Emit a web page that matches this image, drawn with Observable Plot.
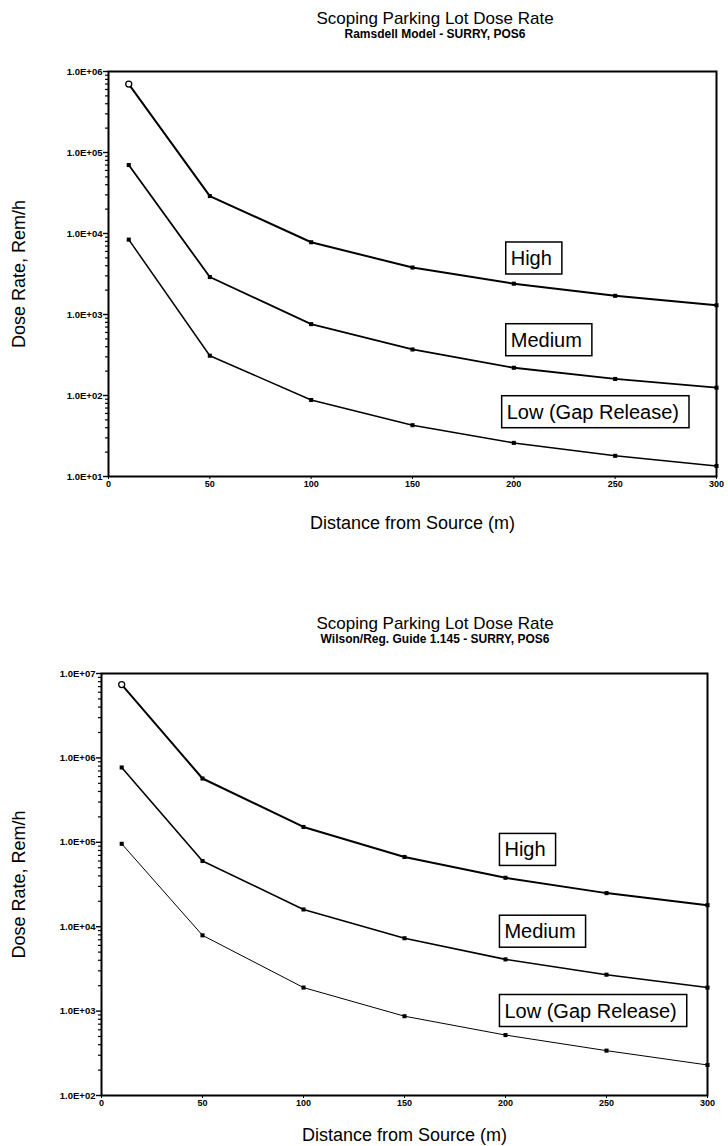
<!DOCTYPE html>
<html><head><meta charset="utf-8">
<script src="https://cdn.jsdelivr.net/npm/d3@7"></script>
<script src="https://cdn.jsdelivr.net/npm/@observablehq/plot@0.6"></script>
<style>
body{margin:0;background:#fff;font-family:"Liberation Sans",Arial,sans-serif;color:#000}
#page{position:relative;width:728px;height:1146px;overflow:hidden;background:#fff}
.title{position:absolute;transform:translateX(-50%);white-space:nowrap;font-size:17px;line-height:18px}
.sub{position:absolute;transform:translateX(-50%);white-space:nowrap;font-size:12px;font-weight:bold;line-height:13px}
.chart{position:absolute;left:0}
</style></head><body><div id="page"></div>
<script>
// ---- data ----
const distances = [10, 50, 100, 150, 200, 250, 300];
const seriesNames = ["High", "Medium", "Low (Gap Release)"];

const ramsdellHigh   = [7.0e5, 2.9e4, 7.8e3, 3.8e3, 2.4e3, 1.7e3, 1.3e3];
const ramsdellMedium = [7.0e4, 2.9e3, 7.6e2, 3.7e2, 2.2e2, 1.6e2, 1.25e2];
const ramsdellLow    = [8.4e3, 3.1e2, 88, 43, 26, 18, 13.5];

const wilsonHigh   = [7.4e6, 5.7e5, 1.52e5, 6.7e4, 3.8e4, 2.5e4, 1.8e4];
const wilsonMedium = [7.7e5, 6.0e4, 1.6e4, 7.3e3, 4.1e3, 2.7e3, 1.9e3];
const wilsonLow    = [9.6e4, 7.9e3, 1.9e3, 8.7e2, 5.2e2, 3.4e2, 2.3e2];

const xTicks = [0, 50, 100, 150, 200, 250, 300];
const ramsdellYTicks = [1e1, 1e2, 1e3, 1e4, 1e5, 1e6];
const wilsonYTicks = [1e2, 1e3, 1e4, 1e5, 1e6, 1e7];

const ramsdellLabelX = [196, 196, 194];
const ramsdellLabelY = [4.9e3, 4.8e2, 62];
const wilsonLabelX = [197, 197, 197];
const wilsonLabelY = [8.1e4, 8.7e3, 1.0e3];

const titles = ["Scoping Parking Lot Dose Rate", "Scoping Parking Lot Dose Rate"];
const subtitles = ["Ramsdell Model - SURRY, POS6", "Wilson/Reg. Guide 1.145 - SURRY, POS6"];
const xLabel = "Distance from Source (m)";
const yLabel = "Dose Rate, Rem/h";

// ---- helpers ----
function rows(values) {
  return seriesNames.flatMap((s, i) => values[i].map((v, j) => ({series: s, distance: distances[j], value: v, idx: j})));
}
function labelRows(xs, ys) {
  return seriesNames.map((s, i) => ({text: s, x: xs[i], y: ys[i]}));
}
const fmtE = d => {
  const e = Math.round(Math.log10(d));
  return "1.0E" + (e >= 0 ? "+" : "-") + String(Math.abs(e)).padStart(2, "0");
};

function makeChart(cfg) {
  const data = rows(cfg.values);
  const minor = cfg.yTicks.slice(0, -1).flatMap(t => [2, 3, 4, 5, 6, 7, 8, 9].map(k => k * t));
  const widths = cfg.lineWidths;
  const marks = [
    Plot.axisY({ticks: minor, tickSize: 3, tickFormat: () => "", label: null, strokeWidth: 1.2}),
    Plot.axisY({ticks: cfg.yTicks, tickSize: 5, tickFormat: fmtE, label: null, fontSize: 9.5, fontWeight: "bold", tickPadding: 1, strokeWidth: 1.4}),
    Plot.axisY([], {label: yLabel, labelAnchor: "center", labelOffset: cfg.yLabelOffset, labelArrow: "none", fontSize: 18}),
    Plot.axisX({ticks: xTicks, tickSize: 3, label: null, fontSize: 9, fontWeight: "bold", tickPadding: 1}),
    Plot.axisX([], {label: xLabel, labelAnchor: "center", labelOffset: cfg.xLabelOffset, labelArrow: "none", fontSize: 18}),
    Plot.frame({strokeWidth: 2}),
    ...seriesNames.map((s, i) => Plot.line(data.filter(d => d.series === s), {x: "distance", y: "value", stroke: "black", strokeWidth: widths[i]})),
    Plot.dot(data.filter(d => !(d.series === "High" && d.idx === 0)), {x: "distance", y: "value", symbol: "square", r: 2.3, fill: "black"}),
    Plot.dot(data.filter(d => d.series === "High" && d.idx === 0), {x: "distance", y: "value", symbol: "circle", r: 3, fill: "white", stroke: "black", strokeWidth: 1.3}),
    Plot.text(labelRows(cfg.labelX, cfg.labelY), {x: "x", y: "y", text: "text", textAnchor: "start", dx: 5, fontSize: 20, fill: "black"})
  ];
  return Plot.plot({
    width: 728, height: cfg.height,
    marginLeft: cfg.marginLeft, marginRight: cfg.marginRight, marginTop: cfg.marginTop, marginBottom: cfg.marginBottom,
    style: {fontFamily: "'Liberation Sans', Arial, sans-serif", color: "#000", background: "#fff", overflow: "visible"},
    x: {domain: [0, 300]},
    y: {type: "log", domain: [cfg.yTicks[0], cfg.yTicks[cfg.yTicks.length - 1]]},
    marks
  });
}

function boxLabels(svg) {
  svg.querySelectorAll('g[aria-label="text"] text').forEach(t => {
    const b = t.getBBox();
    const r = document.createElementNS("http://www.w3.org/2000/svg", "rect");
    r.setAttribute("x", b.x - 5);
    r.setAttribute("y", b.y - 5);
    r.setAttribute("width", b.width + 15);
    r.setAttribute("height", b.height + 10);
    r.setAttribute("fill", "white");
    r.setAttribute("stroke", "black");
    r.setAttribute("stroke-width", "1.5");
    const tr = t.getAttribute("transform");
    if (tr) r.setAttribute("transform", tr);
    t.parentNode.insertBefore(r, t);
  });
}

const page = document.getElementById("page");
function addText(cls, text, cx, top) {
  const d = document.createElement("div");
  d.className = cls; d.textContent = text;
  d.style.left = cx + "px"; d.style.top = top + "px";
  page.appendChild(d);
}

const charts = [
  {values: [ramsdellHigh, ramsdellMedium, ramsdellLow], yTicks: ramsdellYTicks, labelX: ramsdellLabelX, labelY: ramsdellLabelY,
   top: 45, height: 490, marginTop: 26, marginBottom: 59, marginLeft: 108, marginRight: 12,
   yLabelOffset: 96, xLabelOffset: 52, lineWidths: [2, 1.8, 1.5], titleTop: 10, subTop: 28, cx: 435},
  {values: [wilsonHigh, wilsonMedium, wilsonLow], yTicks: wilsonYTicks, labelX: wilsonLabelX, labelY: wilsonLabelY,
   top: 650, height: 496, marginTop: 23, marginBottom: 51, marginLeft: 101, marginRight: 21,
   yLabelOffset: 89, xLabelOffset: 45, lineWidths: [2, 1.6, 1], titleTop: 615, subTop: 633, cx: 435}
];

charts.forEach((cfg, i) => {
  addText("title", titles[i], cfg.cx, cfg.titleTop);
  addText("sub", subtitles[i], cfg.cx, cfg.subTop);
  const svg = makeChart(cfg);
  const wrap = document.createElement("div");
  wrap.className = "chart";
  wrap.style.top = cfg.top + "px";
  wrap.appendChild(svg);
  page.appendChild(wrap);
  boxLabels(svg);
});
</script></body></html>
